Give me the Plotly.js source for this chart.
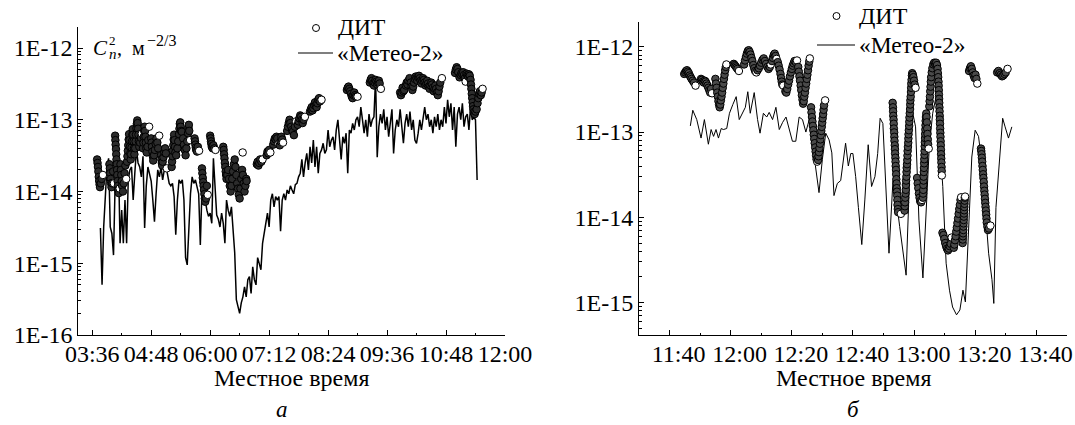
<!DOCTYPE html>
<html>
<head>
<meta charset="utf-8">
<script src="https://cdn.plot.ly/plotly-3.0.1.min.js"></script>
<style>html,body{margin:0;padding:0;background:#fff;}#chart{width:1075px;height:425px;}</style>
</head>
<body>
<div id="chart"></div>
<script>
// ---------- DATA (times are minutes after midnight, local time) ----------
// Panel a: "Метео-2" Cn2, regular 2-min sampling starting 03:46
const meteoA_start = 226;
const meteoA_step = 2;
const meteoA_v = [
 3.1e-15,5e-16,3.2e-15,7.6e-15,2.2e-14,2.9e-14,3.2e-15,2.6e-15,1.3e-15,1.3e-14,
 2.2e-14,2.8e-14,1.9e-15,5.5e-15,1.9e-15,7.6e-15,1.9e-15,1.45e-14,2e-14,2.2e-14,
 7.6e-15,1.8e-14,3.8e-14,2.5e-14,2.2e-14,1.6e-14,3.1e-14,3.1e-15,1.2e-14,2.2e-14,
 1.8e-14,1.4e-14,7.6e-15,3.8e-15,9.3e-15,2e-14,1.6e-14,2.2e-14,1.45e-14,2e-14,
 2.3e-14,1.6e-14,1.3e-14,1.2e-14,1.3e-14,8.5e-15,2.5e-15,7.6e-15,1.45e-14,1.3e-14,
 1.45e-14,7.6e-15,1.2e-15,9.5e-16,3.2e-15,9.3e-15,1.6e-14,1.3e-14,1.45e-14,1.2e-14,
 9.3e-15,1.8e-15,1.05e-14,6.5e-15,7.6e-15,5.5e-15,4.5e-15,5e-15,3.6e-15,2.9e-14,
 9.3e-15,4.7e-15,4.1e-15,3.2e-15,5e-15,3.6e-15,1.9e-15,7.6e-15,5.5e-15,4.5e-15,
 6.1e-15,3.2e-15,1.4e-15,3.1e-16,2.4e-16,2e-16,2.8e-16,3.4e-16,4.7e-16,3.4e-16,
 5.9e-16,6.5e-16,3.8e-16,8.9e-16,5.9e-16,5e-16,1.2e-15,1e-15,8.1e-16,1.9e-15,
 2.6e-15,4.1e-15,5e-15,3.2e-15,7.6e-15,9.3e-15,6.1e-15,8.5e-15,7.6e-15,8.5e-15,
 2.8e-15,7.6e-15,9.3e-15,7.6e-15,1.05e-14,9.3e-15,
 1.2e-14,1.05e-14,9.3e-15,1.25e-14,1.3e-14,1.6e-14,1.8e-14,2.8e-14,1.6e-14,2.5e-14,
 3.4e-14,2e-14,4.2e-14,2.5e-14,5.2e-14,2.2e-14,4.2e-14,1.8e-14,3.4e-14,3.8e-14,
 4.7e-14,3.4e-14,3.8e-14,7.2e-14,4.2e-14,5.2e-14,5.8e-14,3.8e-14,7.2e-14,1e-13,
 5.2e-14,2.8e-14,5.8e-14,4.7e-14,6.5e-14,1.8e-14,7.2e-14,6.5e-14,8.9e-14,7.2e-14,
 1e-13,1.1e-13,8e-14,1.5e-13,1e-13,6.5e-14,1e-13,5.8e-14,1.2e-13,8e-14,
 1e-13,1.1e-13,3.8e-13,3e-14,8e-14,1.2e-13,8.9e-14,1.4e-13,7.2e-14,1.1e-13,
 5.8e-14,1e-13,1.4e-13,3.4e-14,7.2e-14,1e-13,8e-14,1.4e-13,8e-14,4.7e-14,
 8.9e-14,1.2e-13,8e-14,1.3e-13,7.2e-14,1e-13,5.2e-14,4.7e-14,6.5e-14,1e-13,
 7.2e-14,1.1e-13,1.5e-13,1e-13,1.2e-13,8e-14,1e-13,6.5e-14,1.1e-13,8e-14,
 1.2e-13,7.2e-14,1e-13,8e-14,1.5e-13,8.9e-14,1.9e-13,1.1e-13,1.7e-13,7.2e-14,
 1.5e-13,4.2e-14,1.2e-13,1.5e-13,1e-13,1.7e-13,8e-14,1.1e-13,1.2e-13,7.2e-14,
 1.5e-13,1e-13,1.1e-13,1e-13,1.45e-14
];

// Panel a: DIT, one inner array per measurement run
const ditA_t = [
 [222,222.5,223,223.5,224,224.5,225,225.5,226.5,227.5,229],
 [237,237.5,238,238.5,239,239.5,240.5,241.5,242.5],
 [244,244.3,244.6,245,245.3,245.6,246,246.3,246.6,247,247.3,247.6,248.5,249.5],
 [250.5,251,251.5,252,252.5,253.5,254.5,255.5,256.5,257.5],
 [258.5,259,259.5,260,260.5,261,261.5,262,262.5,263,263.5,264,264.5,265,265.5,266,266.5,267,267.5,268.5,269,269.5,270,270.5,271,271.5,272,272.5,273,273.5,274.5,275.5,276.5],
 [278,278.5,279,279.5,280,280.5,281,281.5,282,282.5,283.5,284.5,285.5],
 [288,288.5,289,289.5,290,290.5,291.5,292.5,293.5,294.5,295.5,296.5,297.8],
 [300,300.5,301,301.5,302,303,304,305,306,307],
 [313,313.5,314,314.5,315,315.5,316,316.5,317,317.5,318.5,320,321,322,322.5,323,323.5,324,324.5,325.5,327,328,329,330,331,332,333,333.5,334,334.5,335.5],
 [341,341.5,342,342.5,343,344,345,346.5],
 [350,350.5,351,351.5,352,352.5,353,353.5,354,355,356,357],
 [360,360.5,361,361.5,362,363,364,365,366.5],
 [376,376.5,377,377.5,378,378.5,379,379.5,380,381,382,383,384,385,386,387,388,389,390,391,392,393,394,395,396,397,398,399,400,401,402,403,404,404.5,399.7],
 [417,418,419,420,421,422.5,424],
 [429,430,431,432,433.5],
 [437,438,439,440,441,442,443.5],
 [445,446,447,448,449],
 [454,455,456,457,458,459,460,461,462.3,463.5,465],
 [467,468,469,470,471,472,473,474,475.7],
 [482,483,484,485,486,487,488,489,490,491,492,493,494,496],
 [527,528,529,530,531,532,533,534,535,536,537,538,540],
 [555,556,557,558,559,560,561,562,563,564,565,566,567,568.5],
 [592,593,594,595,596,597,599,600,601,602,603.5,605,606,607,608,609,610,611,612,613,614,615,616,617,618,619,620,621,622,623,624,625,626,627,628,629,630,631,632,633,634,635,636,637,638,639,640,641,643],
 [659,660,661,662,663,664.5,666,667,668,669,670,671,672],
 [673,674,675,676,677,678,678.5,679,679.5,680,680.5,681,681.5,682,683,684,685.4,686.5,687.5,688.5,689.5,690.5,691.5,692.7]
];
const ditA_v = [
 [2.8e-14,2.5e-14,2.2e-14,1.9e-14,1.6e-14,1.4e-14,1.25e-14,1.15e-14,1.3e-14,1.5e-14,1.7e-14],
 [2.4e-14,2.1e-14,1.8e-14,1.5e-14,1.3e-14,1.15e-14,1.3e-14,1.9e-14,1.3e-14],
 [6e-14,5.2e-14,4.5e-14,3.9e-14,3.3e-14,2.8e-14,2.4e-14,2e-14,1.7e-14,1.4e-14,1.2e-14,1.05e-14,9.5e-15,1.1e-14],
 [2.4e-14,2e-14,1.7e-14,1.4e-14,1.2e-14,1e-14,1.3e-14,1.8e-14,2.3e-14,1.5e-14],
 [2.6e-14,3.1e-14,3.7e-14,4.4e-14,5.3e-14,6.3e-14,5.2e-14,4.2e-14,3.4e-14,2.8e-14,3.3e-14,4.1e-14,5e-14,6.2e-14,7.4e-14,6.2e-14,5e-14,4e-14,3.3e-14,4e-14,5e-14,6.2e-14,7.6e-14,8.8e-14,9.8e-14,9e-14,7.5e-14,6.2e-14,5e-14,4.2e-14,4.8e-14,5.6e-14,6.4e-14],
 [4e-14,4.8e-14,5.8e-14,7e-14,8e-14,7e-14,5.8e-14,4.8e-14,4e-14,3.5e-14,4.2e-14,5.2e-14,8e-14],
 [5.5e-14,4.8e-14,4.2e-14,3.6e-14,3.1e-14,2.7e-14,3.2e-14,3.8e-14,4.6e-14,5.5e-14,4.8e-14,4e-14,6e-14],
 [3.2e-14,2.8e-14,2.5e-14,2.3e-14,2.6e-14,3e-14,3.5e-14,4e-14,3.4e-14,2.1e-14],
 [2.2e-14,2.6e-14,3.1e-14,3.7e-14,4.4e-14,5.3e-14,6.2e-14,5.2e-14,4.2e-14,3.5e-14,3.2e-14,4e-14,5e-14,6.3e-14,7.5e-14,8.8e-14,9.2e-14,8e-14,7e-14,6.8e-14,5.5e-14,4.5e-14,3.8e-14,3.2e-14,4e-14,5e-14,6.5e-14,7.8e-14,8.5e-14,7e-14,5.2e-14],
 [5.5e-14,5e-14,4.5e-14,4.1e-14,3.8e-14,3.6e-14,4.2e-14,3.7e-14],
 [2.1e-14,1.8e-14,1.55e-14,1.35e-14,1.2e-14,1.05e-14,9.2e-15,8e-15,7.2e-15,8e-15,1.2e-14,9e-15],
 [6e-14,5.5e-14,5e-14,4.6e-14,4.2e-14,4e-14,4.4e-14,4e-14,3.8e-14],
 [4.2e-14,3.8e-14,3.3e-14,2.9e-14,2.5e-14,2.2e-14,1.9e-14,1.7e-14,1.5e-14,1.7e-14,2e-14,1.5e-14,1.2e-14,1e-14,1.2e-14,1.5e-14,1.9e-14,2.4e-14,2.8e-14,2.2e-14,1.7e-14,1.3e-14,1.1e-14,9e-15,8e-15,1.1e-14,1.5e-14,2e-14,1.7e-14,1.3e-14,1e-14,1.2e-14,1.5e-14,1.4e-14,3.5e-14],
 [2.4e-14,2.6e-14,2.3e-14,2.5e-14,2.8e-14,2.6e-14,2.8e-14],
 [3.2e-14,3.6e-14,3.4e-14,3.8e-14,3.5e-14],
 [4.5e-14,5e-14,5.5e-14,5.3e-14,5.8e-14,5.5e-14,4.6e-14],
 [4.4e-14,5e-14,5.8e-14,5.3e-14,4.8e-14],
 [7e-14,8e-14,9e-14,1e-13,9e-14,8e-14,7.2e-14,6.8e-14,6.1e-14,8e-14,9.5e-14],
 [8.5e-14,9.5e-14,1.05e-13,1.15e-13,1.1e-13,1e-13,9e-14,1e-13,1.1e-13],
 [1.3e-13,1.4e-13,1.5e-13,1.35e-13,1.45e-13,1.6e-13,1.75e-13,1.6e-13,1.5e-13,1.7e-13,1.9e-13,2e-13,1.8e-13,1.9e-13],
 [2.6e-13,2.8e-13,2.9e-13,2.7e-13,2.5e-13,2.3e-13,2.1e-13,2e-13,2.2e-13,2.4e-13,2.2e-13,2.1e-13,2.1e-13],
 [3.3e-13,3.6e-13,3.8e-13,3.5e-13,3.2e-13,3e-13,3.3e-13,3.6e-13,3.4e-13,3.1e-13,3.3e-13,3.5e-13,3.2e-13,2.7e-13],
 [2.4e-13,2.2e-13,2.4e-13,2.8e-13,2.5e-13,2.6e-13,3e-13,3.3e-13,3.1e-13,3.5e-13,3.8e-13,3.3e-13,2.9e-13,2.6e-13,2.9e-13,3.3e-13,3.7e-13,4e-13,3.8e-13,3.5e-13,3.9e-13,4.1e-13,3.8e-13,3.5e-13,3.2e-13,3.5e-13,3.8e-13,3.6e-13,3.3e-13,3e-13,3.2e-13,3.5e-13,3.2e-13,2.9e-13,2.7e-13,3e-13,3.3e-13,3.1e-13,2.8e-13,2.5e-13,2.7e-13,3e-13,2.7e-13,2.4e-13,2.2e-13,2.5e-13,2.9e-13,3.3e-13,3.8e-13],
 [4.5e-13,5e-13,5.4e-13,5.1e-13,4.6e-13,3.9e-13,4.2e-13,4.5e-13,4.3e-13,4.6e-13,4.2e-13,3.8e-13,3.4e-13],
 [4.4e-13,4.2e-13,4e-13,4.3e-13,4.1e-13,3.6e-13,3.1e-13,2.7e-13,2.3e-13,2e-13,1.75e-13,1.55e-13,1.4e-13,1.28e-13,1.2e-13,1.3e-13,1.4e-13,1.7e-13,2e-13,2.3e-13,2.5e-13,2.2e-13,2.4e-13,2.7e-13]
];

// Panel б: "Метео-2"
const meteoB_t = [706.8,707.6,708.9,710.3,711.4,712.7,713.6,714.4,715.2,716.0,716.9,717.6,718.7,719.6,720.7,721.8,722.8,723.9,724.8,725.6,726.4,727.7,728.8,729.6,730.7,731.8,732.6,733.7,734.8,735.9,737.0,738.1,739.1,740.2,741.3,742.4,743.5,744.6,745.7,746.8,747.9,748.9,750.0,751.1,752.2,753.1,753.8,754.9,756.0,757.6,758.5,759.3,760.0,760.9,761.8,762.9,763.9,765.0,766.1,767.2,768.1,768.9,769.8,770.7,771.8,773.1,774.2,775.3,776.3,777.4,778.5,779.4,780.5,781.6,782.9,784.0,785.0,786.1,787.2,788.3,789.4,790.5,791.6,792.6,793.9,795.0,796.0,796.8,797.9,798.9,800.0,801.1,802.2,803.3,804.4,805.5,806.1,806.8,807.6,809.0,809.8,810.9,812.0];
const meteoB_v = [1.18e-13,1.8e-13,1.4e-13,8.5e-14,1.4e-13,7.2e-14,1.07e-13,8.9e-14,1.07e-13,8.5e-14,1.1e-13,1.07e-13,1.1e-13,1.66e-13,2.1e-13,2.6e-13,1.4e-13,1.66e-13,1.95e-13,2.97e-13,1.66e-13,2.9e-13,1.4e-13,9.7e-14,1.66e-13,1.5e-13,1.7e-13,1.4e-13,1.95e-13,1.07e-13,1.3e-13,1.5e-13,1.07e-13,7.8e-14,7.8e-14,1.5e-13,1.4e-13,1e-13,1.4e-13,7.4e-14,4e-14,1.95e-14,4.8e-14,9.7e-14,8.1e-14,5.7e-14,1.8e-14,2.5e-14,2.7e-14,7.4e-14,4e-14,5.6e-14,5.6e-14,3e-14,1.3e-14,4.8e-15,1.6e-14,7.1e-14,2.3e-14,3e-14,5.6e-14,1.45e-13,1.26e-13,2.3e-14,3.8e-15,2.7e-14,1.6e-14,7.8e-15,4.2e-15,2.1e-15,2.7e-14,1.8e-13,1.15e-13,9.3e-15,1.95e-15,1.3e-14,6.8e-14,1.66e-13,2.6e-13,8.9e-14,2.3e-14,2.9e-15,1.4e-15,8.9e-16,7.2e-16,8.2e-16,1.4e-15,1.02e-15,6.5e-15,5.1e-14,1.05e-13,8.9e-14,4.3e-14,1.3e-14,3.8e-15,1.86e-15,9.8e-16,1.3e-14,3e-14,1.45e-13,1.15e-13,8.5e-14,1.15e-13];

// Panel б: DIT, one inner array per measurement run
const ditB_t = [
 [704.8,705.1,705.4,705.7,706.0,706.3,706.6,706.9,707.2,707.6,708.0,708.5],
 [710.3,710.6,710.9,711.2,711.5,711.8,712.1,712.4,712.7,713.0,713.3,713.6,713.9],
 [715.0,715.2,715.4,715.6,715.8,716.0,716.2,716.4,716.6,716.8,717.0,717.2,717.4,717.6,717.8,718.0,718.2,718.4,718.6],
 [721.0,721.3,721.6,721.9,722.2,722.7],
 [724.4,724.7,725.0,725.3,725.6,725.9,726.2,726.5,726.8,727.1,727.4,727.7,728.0,728.4],
 [728.8,729.2,729.6,730.0,730.4,730.8,731.2,731.6,732.0,732.4,732.8,733.1],
 [733.5,733.8,734.1,734.4,734.7,735.0],
 [735.4,735.7,736.0,736.3,736.5,736.7,736.9,737.2],
 [737.9,738.2,738.5,738.8,739.1,739.4,739.7,740.0,740.3,740.6,740.9,741.3,741.7],
 [742.1,742.3,742.5,742.7,742.9,743.1,743.3,743.5,743.7,743.9,744.1,744.3,744.5,744.7,744.9,745.1,745.3,745.5,745.7,745.9],
 [746.3,746.45,746.6,746.75,746.9,747.05,747.2,747.35,747.5,747.65,747.8,747.95,748.1,748.3],
 [748.6,748.75,748.9,749.05,749.2,749.35,749.5,749.65,749.8,749.95,750.1,750.25,750.4,750.55,750.9],
 [773.0,773.1,773.15,773.2,773.3,773.35,773.4,773.5,773.55,773.6,773.7,773.75,773.8,773.9,773.95,774.0,774.1,774.15,774.2,774.3,774.35,774.4,774.5,774.55,774.6,774.7,774.8,775.7],
 [776.9,777.0,777.05,777.1,777.2,777.3,777.35,777.4,777.5,777.55,777.6,777.7,777.8,777.85,777.9,778.0,778.1,778.15,778.2,778.3,778.4,778.45,778.5,778.6,778.7,778.75,778.8,778.9,779.0,779.05,779.1,779.2,779.3,779.4,779.6,779.8,780.0,780.2,780.5],
 [781.0,781.2,781.4,781.6,781.8,782.0,782.3,782.6],
 [782.9,782.95,783.0,783.05,783.1,783.15,783.2,783.25,783.3,783.35,783.4,783.45,783.5,783.55,783.6,783.65,783.7,783.75,783.8,783.9,784.0,784.1,784.2,784.3,784.4,784.5,784.6,784.8],
 [785.0,785.1,785.2,785.3,785.4,785.5,785.6,785.8,786.0,786.3,786.6,786.9,787.2,787.5,787.7,787.8,787.9,788.0,788.05,788.1,788.15,788.2,788.25,788.3,788.35,788.4,788.45,788.5,788.55,788.6,788.65,788.7,788.75,788.8,788.85,788.9,788.95,789.0,789.05,789.1],
 [789.3,789.6,789.9,790.2,790.5,790.8,791.1,791.4,791.7,792.0,792.3],
 [793.0,793.2,793.4,793.6,793.8,794.0,794.2,794.4,794.6,794.8,795.0,795.2,795.4],
 [795.9,795.95,796.0,796.05,796.1,796.15,796.2,796.25,796.3,796.35,796.4,796.45,796.5,796.55,796.6,796.7],
 [798.0,798.3,798.6,798.9,799.2,799.5,799.8,800.1,800.4,800.7],
 [801.9,802.0,802.1,802.2,802.3,802.4,802.5,802.6,802.7,802.8,802.9,803.0,803.1,803.2,803.3,803.4,803.5,803.6,803.7,803.8,804.0,804.2,804.5,805.0],
 [807.2,807.6,808.0,808.4,808.8,809.2,809.6,810.0,810.6]
];
const ditB_v = [
 [4.8e-13,5e-13,5.2e-13,5.3e-13,5.1e-13,4.9e-13,4.6e-13,4.4e-13,4.2e-13,4e-13,3.8e-13,3.5e-13],
 [4.2e-13,4.1e-13,3.9e-13,3.8e-13,4e-13,3.9e-13,3.7e-13,3.5e-13,3.3e-13,3.1e-13,2.9e-13,3.2e-13,2.85e-13],
 [4.2e-13,3.7e-13,3.3e-13,2.9e-13,2.6e-13,2.3e-13,2.1e-13,1.95e-13,2.1e-13,2.35e-13,2.6e-13,2.9e-13,3.3e-13,3.7e-13,4.2e-13,4.7e-13,5.3e-13,5.8e-13,6.2e-13],
 [6.3e-13,6.1e-13,5.9e-13,5.7e-13,5.5e-13,5.2e-13],
 [6.2e-13,6.9e-13,7.6e-13,8.3e-13,8.9e-13,9.1e-13,8.7e-13,8.1e-13,7.4e-13,6.8e-13,6.1e-13,5.6e-13,5.2e-13,5e-13],
 [5.3e-13,5.6e-13,6e-13,6.5e-13,7e-13,7.3e-13,6.8e-13,6.3e-13,5.8e-13,5.5e-13,5.8e-13,6.2e-13],
 [6.8e-13,7.4e-13,8e-13,8.3e-13,7.8e-13,7.2e-13],
 [6.6e-13,6e-13,5.4e-13,4.8e-13,4.3e-13,3.9e-13,3.6e-13,3.5e-13],
 [3e-13,2.9e-13,3.2e-13,3.6e-13,4e-13,4.5e-13,5e-13,5.5e-13,6e-13,6.4e-13,6.8e-13,6.6e-13,6.9e-13],
 [5.8e-13,5.1e-13,4.5e-13,4e-13,3.5e-13,3.1e-13,2.7e-13,2.4e-13,2.15e-13,2.3e-13,2.6e-13,2.9e-13,3.3e-13,3.7e-13,4.2e-13,4.7e-13,5.3e-13,6e-13,6.7e-13,7.3e-13],
 [1.95e-13,1.7e-13,1.5e-13,1.33e-13,1.18e-13,1.05e-13,9.3e-14,8.3e-14,7.4e-14,6.6e-14,5.9e-14,5.3e-14,4.8e-14,4.5e-14],
 [4.7e-14,5.2e-14,5.8e-14,6.5e-14,7.3e-14,8.2e-14,9.2e-14,1.03e-13,1.15e-13,1.29e-13,1.45e-13,1.62e-13,1.82e-13,2.05e-13,2.35e-13],
 [2.2e-13,1.95e-13,1.75e-13,1.55e-13,1.4e-13,1.25e-13,1.1e-13,9.9e-14,8.8e-14,7.9e-14,7e-14,6.3e-14,5.6e-14,5e-14,4.5e-14,4e-14,3.6e-14,3.2e-14,2.8e-14,2.5e-14,2.2e-14,2e-14,1.8e-14,1.6e-14,1.4e-14,1.25e-14,1.15e-14,1.1e-14],
 [1.2e-14,1.35e-14,1.5e-14,1.7e-14,1.9e-14,2.1e-14,2.4e-14,2.7e-14,3e-14,3.4e-14,3.8e-14,4.2e-14,4.7e-14,5.3e-14,6e-14,6.7e-14,7.5e-14,8.4e-14,9.4e-14,1.05e-13,1.18e-13,1.32e-13,1.48e-13,1.66e-13,1.86e-13,2.1e-13,2.35e-13,2.6e-13,2.95e-13,3.3e-13,3.7e-13,4.1e-13,4.6e-13,4.9e-13,4.7e-13,4.4e-13,4e-13,3.6e-13,3.3e-13],
 [2.9e-14,2.5e-14,2.2e-14,1.9e-14,1.7e-14,1.55e-14,1.5e-14,1.6e-14],
 [1.7e-14,1.9e-14,2.1e-14,2.4e-14,2.7e-14,3e-14,3.4e-14,3.8e-14,4.3e-14,4.8e-14,5.4e-14,6e-14,6.8e-14,7.6e-14,8.5e-14,9.5e-14,1.07e-13,1.2e-13,1.35e-13,1.5e-13,1.65e-13,1.5e-13,1.3e-13,1.1e-13,9.5e-14,8.2e-14,7.2e-14,6.4e-14],
 [2e-13,2.3e-13,2.6e-13,3e-13,3.4e-13,3.9e-13,4.4e-13,5e-13,5.6e-13,6.2e-13,6.5e-13,6.3e-13,6.5e-13,6.1e-13,5.5e-13,4.9e-13,4.4e-13,3.9e-13,3.5e-13,3.1e-13,2.75e-13,2.45e-13,2.2e-13,1.95e-13,1.75e-13,1.55e-13,1.4e-13,1.25e-13,1.1e-13,9.8e-14,8.8e-14,7.8e-14,7e-14,6.2e-14,5.5e-14,4.9e-14,4.4e-14,3.9e-14,3.5e-14,3.1e-14],
 [6.6e-15,6.2e-15,5.6e-15,5e-15,4.6e-15,4.3e-15,4.1e-15,4.3e-15,4.6e-15,4.9e-15,5.8e-15],
 [4.4e-15,4.8e-15,5.4e-15,6e-15,6.8e-15,7.6e-15,8.6e-15,9.7e-15,1.1e-14,1.25e-14,1.4e-14,1.6e-14,1.72e-14],
 [5e-15,5.5e-15,6e-15,6.5e-15,7.1e-15,7.8e-15,8.5e-15,9.3e-15,1.02e-14,1.11e-14,1.21e-14,1.32e-14,1.44e-14,1.57e-14,1.7e-14,1.75e-14],
 [5.2e-13,5.6e-13,5.9e-13,5.5e-13,5e-13,4.6e-13,4.3e-13,4.7e-13,4.2e-13,3.7e-13],
 [6.4e-14,6e-14,5.5e-14,5e-14,4.5e-14,4e-14,3.6e-14,3.2e-14,2.9e-14,2.6e-14,2.3e-14,2.05e-14,1.85e-14,1.65e-14,1.48e-14,1.33e-14,1.2e-14,1.08e-14,9.7e-15,8.7e-15,7.8e-15,7.1e-15,7.4e-15,8e-15],
 [5e-13,5.2e-13,4.9e-13,4.7e-13,4.5e-13,4.6e-13,4.8e-13,5e-13,5.5e-13]
];

// Tick labels and texts
const yTickVals = [1e-16,1e-15,1e-14,1e-13,1e-12];
const yTickText = ['1E-16','1E-15','1E-14','1E-13','1E-12'];
const xTitle = 'Местное время';
const nameDIT = 'ДИТ';
const nameMeteo = '«Метео-2»';

// ---------- helpers ----------
const pad = n => String(n).padStart(2,'0');
function toT(m){ const s=Math.round(m*60); return '2000-01-01 '+pad(Math.floor(s/3600))+':'+pad(Math.floor(s%3600/60))+':'+pad(s%60); }
const W=1075, H=425;
const px = x => x/W, py = y => 1 - y/H;
const FONT = 'Liberation Serif';
const fnt = s => ({family:FONT, size:s, color:'#000'});

const meteoA_t = meteoA_v.map((_,i)=>toT(meteoA_start + i*meteoA_step));

// flatten runs; the last sample of every run ends up on top as an open (white) circle
function runs(tt, vv, dark){
  const x=[], y=[], c=[];
  tt.forEach((r,i)=>r.forEach((t,j)=>{ x.push(toT(t)); y.push(vv[i][j]); c.push(j===r.length-1 ? '#fff' : dark); }));
  return {x, y, c};
}
const dA = runs(ditA_t, ditA_v, '#2c2c2c'), dB = runs(ditB_t, ditB_v, '#4a4a4a');

function minorLog(lo, hi){ const a=[]; for(let e=lo;e<=hi;e++) for(let d=2;d<=9;d++) a.push(d*Math.pow(10,e)); return a; }

const mk = c => ({symbol:'circle', size:7.5, color:c, line:{color:'#000', width:1}});

const traces = [
 {x:meteoA_t, y:meteoA_v, xaxis:'x', yaxis:'y', mode:'lines', line:{color:'#000', width:1.5}, name:nameMeteo},
 {x:dA.x, y:dA.y, xaxis:'x', yaxis:'y', mode:'markers', marker:mk(dA.c), name:nameDIT, cliponaxis:false},
 {x:meteoB_t.map(toT), y:meteoB_v, xaxis:'x2', yaxis:'y2', mode:'lines', line:{color:'#000', width:1}, name:nameMeteo},
 {x:dB.x, y:dB.y, xaxis:'x2', yaxis:'y2', mode:'markers', marker:mk(dB.c), name:nameDIT, cliponaxis:false}
];

const baseX = {type:'date', tickformat:'%H:%M', showgrid:false, zeroline:false, showline:true, linecolor:'#000', linewidth:1,
  ticks:'inside', ticklen:5, tickwidth:1, tickcolor:'#000', tickfont:fnt(24), ticklabelstandoff:-3, fixedrange:true};
const baseY = {type:'log', showgrid:false, zeroline:false, showline:true, linecolor:'#000', linewidth:1,
  ticks:'inside', ticklen:5, tickwidth:1, tickcolor:'#000', tickfont:fnt(24), tickmode:'array', tickvals:yTickVals, ticktext:yTickText, fixedrange:true};

const A = (x, y, text, size, anchor, ya, bp) => ({xref:'paper', yref:'paper', x:px(x), y:py(y), xanchor:anchor||'left', yanchor:ya||'middle', text:text, showarrow:false, font:fnt(size), borderpad:(bp===undefined?1:bp)});

// legend keys drawn as shapes (sample circle and sample line)
const circ = (cx, cy, r) => ({type:'circle', xref:'paper', yref:'paper', x0:px(cx-r), x1:px(cx+r), y0:py(cy+r), y1:py(cy-r), line:{color:'#000', width:1}, fillcolor:'#fff'});
const seg = (x0, x1, y) => ({type:'line', xref:'paper', yref:'paper', x0:px(x0), x1:px(x1), y0:py(y), y1:py(y), line:{color:'#000', width:1.2}});

const layout = {
 width:W, height:H, margin:{l:0,r:0,t:0,b:0}, paper_bgcolor:'#fff', plot_bgcolor:'#fff', showlegend:false,
 font:fnt(24),
 xaxis: Object.assign({}, baseX, {domain:[px(78.3), px(505)], anchor:'y', range:[toT(199), toT(720.05)], tick0:toT(216), dtick:72*60000,
   minor:{tick0:toT(216), dtick:36*60000, ticks:'inside', ticklen:2.5, tickcolor:'#000'}}),
 yaxis: Object.assign({}, baseY, {domain:[py(335), py(27)], anchor:'x', range:[-16, -11.707],
   minor:{tickmode:'array', tickvals:minorLog(-16,-12), ticks:'inside', ticklen:2.5, tickcolor:'#000'}}),
 xaxis2: Object.assign({}, baseX, {domain:[px(639), px(1067)], anchor:'y2', range:[toT(690), toT(830.05)], tick0:toT(700), dtick:20*60000,
   minor:{tick0:toT(700), dtick:10*60000, ticks:'inside', ticklen:2.5, tickcolor:'#000'}, ticklabelshift:9}),
 yaxis2: Object.assign({}, baseY, {domain:[py(335), py(22)], anchor:'x2', range:[-15.379, -11.71],
   minor:{tickmode:'array', tickvals:minorLog(-16,-12), ticks:'inside', ticklen:2.5, tickcolor:'#000'}}),
 shapes:[ circ(316, 28, 3.5), seg(298, 333, 53), circ(836.5, 16, 3.5), seg(817, 855, 45) ],
 annotations:[
  A(337, 26.5, nameDIT, 23.5, 'left', 'middle', 0), A(336, 53.5, nameMeteo, 23.5, 'left', 'middle', 0),
  A(857, 16, nameDIT, 24), A(857, 45, nameMeteo, 23.5),
  A(291.6, 378, xTitle, 24, 'center'), A(853, 378, xTitle, 24, 'center'),
  A(91, 48, '<i>C</i>', 21), A(107, 41, '2', 13), A(107, 54, '<i>n</i>', 15),
  A(115, 48, ',&#160;&#160;м', 20), A(145, 41, '−2/3', 16),
  A(282, 424, '<i>а</i>', 23, 'center', 'bottom'), A(853, 424, '<i>б</i>', 23, 'center', 'bottom')
 ]
};

Plotly.newPlot('chart', traces, layout, {staticPlot:true, displayModeBar:false});
</script>
</body>
</html>
